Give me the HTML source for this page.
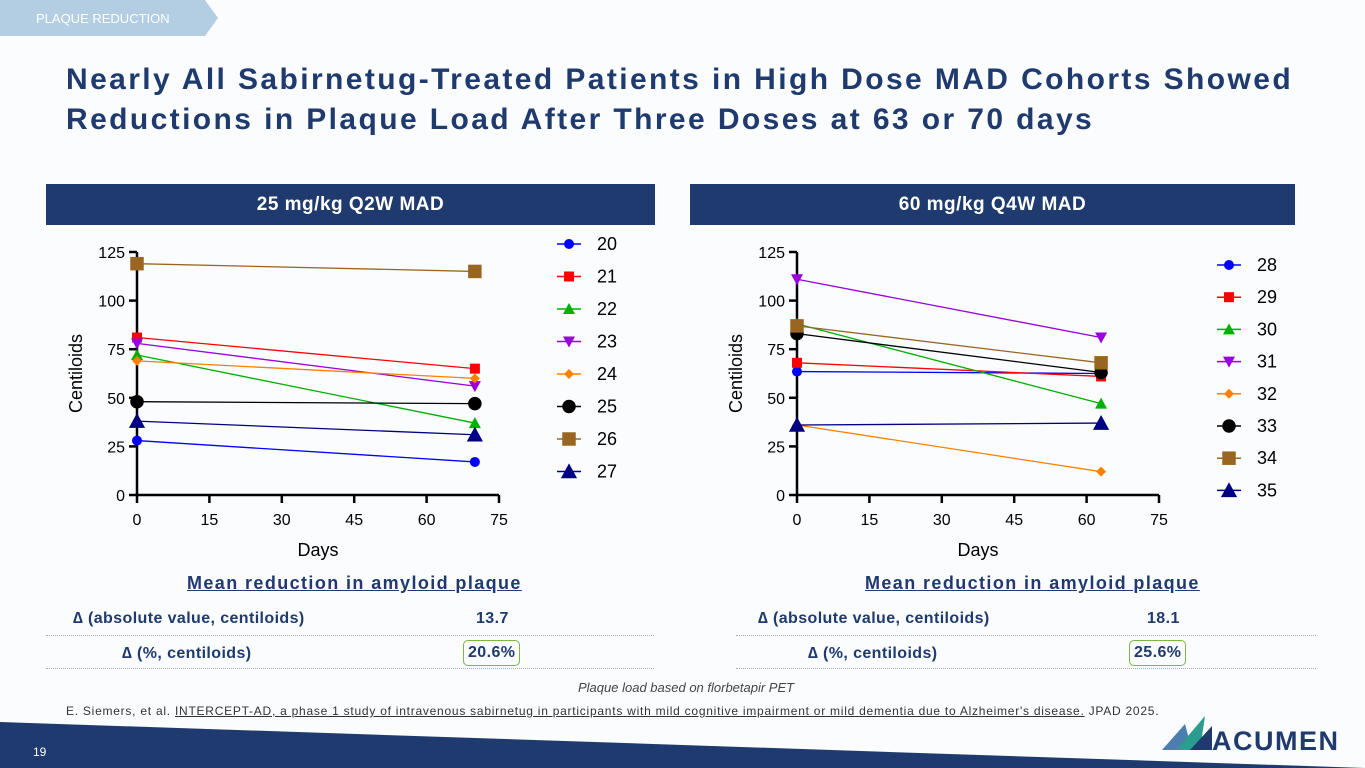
<!DOCTYPE html>
<html><head><meta charset="utf-8"><style>
body{margin:0;width:1365px;height:768px;position:relative;overflow:hidden;background:#fafcfe;font-family:"Liberation Sans",sans-serif}
.abs{position:absolute}
.hdr{position:absolute;top:184px;height:41px;background:#1f3a6e;color:#fff;font-weight:bold;font-size:19px;text-align:center;line-height:41px;letter-spacing:0.5px}
.t{position:absolute;color:#1f3a6e;font-weight:bold;font-size:16px;white-space:nowrap;letter-spacing:0.4px}
.dot{position:absolute;height:0;border-top:1.5px dotted #aab;}
</style></head><body>
<svg class="abs" style="left:0;top:0" width="1365" height="768">
<polygon points="0,0 205,0 218,18 205,36 0,36" fill="#b3cde3"/>
<text x="36" y="23" font-size="13" fill="#fff" font-family="Liberation Sans">PLAQUE REDUCTION</text>
<polygon points="0,722 1365,768 0,768" fill="#1f3a6e"/>
<text x="33" y="756" font-size="12" fill="#fff" font-family="Liberation Sans">19</text>
<g>
<polygon points="1162,750 1185,724 1192,750" fill="#4a7fb0"/>
<polygon points="1176,750 1205,716 1200,750" fill="#2a9d8f"/>
<polygon points="1190,750 1212,726 1212,750" fill="#1f3a6e"/>
<text x="1212" y="750" font-size="27" fill="#1f3a6e" font-family="Liberation Sans" font-weight="bold" textLength="126">ACUMEN</text>
</g>
</svg>
<div class="abs" style="left:66px;top:60px;font-size:30px;font-weight:bold;color:#1f3a6e;line-height:40px;letter-spacing:2.4px;white-space:nowrap">Nearly All Sabirnetug-Treated Patients in High Dose MAD Cohorts Showed<br>Reductions in Plaque Load After Three Doses at 63 or 70 days</div>
<div class="hdr" style="left:46px;width:609px">25 mg/kg Q2W MAD</div>
<div class="hdr" style="left:690px;width:605px">60 mg/kg Q4W MAD</div>
<svg id="chartL" class="abs" style="left:0;top:0" width="680" height="570"></svg>
<svg id="chartR" class="abs" style="left:660px;top:0" width="705" height="570"></svg>

<div class="t" style="left:187px;top:573px;font-size:18px;text-decoration:underline;letter-spacing:1.4px">Mean reduction in amyloid plaque</div>
<div class="t" style="left:73px;top:610px">∆ (absolute value, centiloids)</div>
<div class="t" style="left:476px;top:610px">13.7</div>
<div class="dot" style="left:46px;top:635px;width:608px"></div>
<div class="t" style="left:122px;top:645px">∆ (%, centiloids)</div>
<div class="t" style="left:463px;top:640px;border:1.5px solid #7ab648;border-radius:5px;padding:3px 4px;background:#fafcfe">20.6%</div>
<div class="dot" style="left:46px;top:668px;width:608px"></div>

<div class="t" style="left:865px;top:573px;font-size:18px;text-decoration:underline;letter-spacing:1.4px">Mean reduction in amyloid plaque</div>
<div class="t" style="left:758px;top:610px">∆ (absolute value, centiloids)</div>
<div class="t" style="left:1147px;top:610px">18.1</div>
<div class="dot" style="left:736px;top:635px;width:580px"></div>
<div class="t" style="left:808px;top:645px">∆ (%, centiloids)</div>
<div class="t" style="left:1129px;top:640px;border:1.5px solid #7ab648;border-radius:5px;padding:3px 4px;background:#fafcfe">25.6%</div>
<div class="dot" style="left:736px;top:668px;width:580px"></div>

<div class="abs" style="left:578px;top:680px;font-size:13px;font-style:italic;color:#444">Plaque load based on florbetapir PET</div>
<div class="abs" style="left:66px;top:704px;font-size:12px;color:#333;white-space:nowrap;letter-spacing:0.75px">E. Siemers, et al. <u>INTERCEPT-AD, a phase 1 study of intravenous sabirnetug in participants with mild cognitive impairment or mild dementia due to Alzheimer's disease.</u> JPAD 2025.</div>

<script>
const xTicks=[0,15,30,45,60,75];
const yTicks=[0,25,50,75,100,125];
const colors=["#0000ff","#ff0000","#00b000","#9900dd","#ff8000","#000000","#996622","#000080"];
const markers=["circle","square","triangle","tri-down","diamond","circle","square","triangle"];
const leftIds=["20","21","22","23","24","25","26","27"];
const leftDays=[0,70];
const leftStart=[28,81,72,78,69,48,119,38];
const leftEnd=[17,65,37,56,60,47,115,31];
const rightIds=["28","29","30","31","32","33","34","35"];
const rightDays=[0,63];
const rightStart=[63.5,68,88,111,36,83,87,36];
const rightEnd=[62.5,61,47,81,12,63,68,37];
const NS="http://www.w3.org/2000/svg";
function mk(p,tag,a){const e=document.createElementNS(NS,tag);for(const k in a)e.setAttribute(k,a[k]);p.appendChild(e);return e;}
function marker(g,type,x,y,c,big){
  const s=big?1.35:1;let e;
  if(type==="circle")e=mk(g,"circle",{cx:x,cy:y,r:5*s,fill:c});
  else if(type==="square")e=mk(g,"rect",{x:x-5*s,y:y-5*s,width:10*s,height:10*s,fill:c});
  else if(type==="triangle")e=mk(g,"polygon",{points:`${x},${y-6*s} ${x-6*s},${y+5*s} ${x+6*s},${y+5*s}`,fill:c});
  else if(type==="tri-down")e=mk(g,"polygon",{points:`${x},${y+6*s} ${x-6*s},${y-5*s} ${x+6*s},${y-5*s}`,fill:c});
  else e=mk(g,"polygon",{points:`${x},${y-5} ${x+5},${y} ${x},${y+5} ${x-5},${y}`,fill:c});
  return e;
}
function draw(svg,x0,ids,days,st,en,legX,legY,legStep){
  const X=v=>x0+v*(362/75), Y=v=>495-v*(243/125);
  const ax=mk(svg,"g",{});
  
  
  mk(ax,"line",{x1:X(0),y1:Y(0),x2:X(75),y2:Y(0),stroke:"#000","stroke-width":2.5});
  mk(ax,"line",{x1:X(0),y1:Y(0),x2:X(0),y2:Y(125),stroke:"#000","stroke-width":2.5});
  xTicks.forEach(t=>{mk(ax,"line",{x1:X(t),y1:495,x2:X(t),y2:503,stroke:"#000","stroke-width":2.5});
    const tx=mk(ax,"text",{x:X(t),y:525,"text-anchor":"middle","font-size":16,"font-family":"Liberation Sans"});tx.textContent=t;
    
    });
  yTicks.forEach(t=>{mk(ax,"line",{x1:X(0)-8,y1:Y(t),x2:X(0),y2:Y(t),stroke:"#000","stroke-width":2.5});
    const tx=mk(ax,"text",{x:X(0)-12,y:Y(t)+6,"text-anchor":"end","font-size":16,"font-family":"Liberation Sans"});tx.textContent=t;
    
    });
  const xl=mk(ax,"text",{x:X(37.5),y:556,"text-anchor":"middle","font-size":18,"font-family":"Liberation Sans"});xl.textContent="Days";
  
  
  const yl=mk(ax,"text",{x:0,y:0,"text-anchor":"middle","font-size":18,"font-family":"Liberation Sans",transform:`translate(${X(0)-55},${Y(62.5)}) rotate(-90)`});yl.textContent="Centiloids";
  
  
  ids.forEach((id,i)=>{
    const g=mk(svg,"g",{});
    
    
    const big=(i===5||i===6||i===7);
    mk(g,"line",{x1:X(days[0]),y1:Y(st[i]),x2:X(days[1]),y2:Y(en[i]),stroke:colors[i],"stroke-width":1.3});
    marker(g,markers[i],X(days[0]),Y(st[i]),colors[i],big);
    marker(g,markers[i],X(days[1]),Y(en[i]),colors[i],big);
    const lg=mk(svg,"g",{});
    
    
    const ly=legY+i*legStep;
    mk(lg,"line",{x1:legX,y1:ly,x2:legX+24,y2:ly,stroke:colors[i],"stroke-width":1.5});
    marker(lg,markers[i],legX+12,ly,colors[i],big);
    const t=mk(lg,"text",{x:legX+40,y:ly+6,"font-size":18,"font-family":"Liberation Sans"});t.textContent=id;
  });
}
draw(document.getElementById("chartL"),137,leftIds,leftDays,leftStart,leftEnd,557,244,32.5);
draw(document.getElementById("chartR"),137,rightIds,rightDays,rightStart,rightEnd,557,265,32.2);
</script>
</body></html>
